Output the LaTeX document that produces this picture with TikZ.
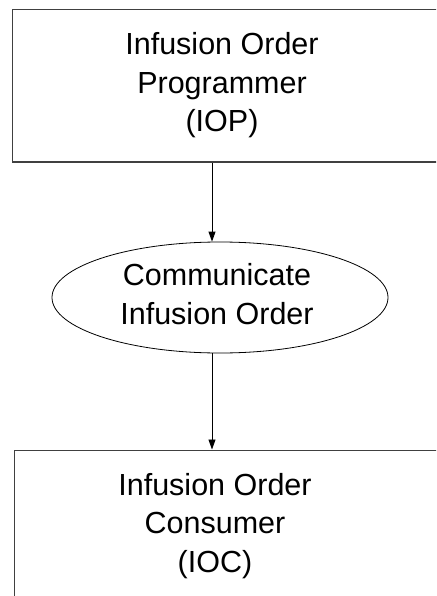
\documentclass[tikz,border=0pt]{standalone}
\usepackage{fontspec}
\setmainfont{Liberation Sans}
\usetikzlibrary{shapes.geometric,arrows.meta}
\begin{document}
\begin{tikzpicture}[x=1pt,y=-1pt,
  lbl/.style={font=\fontsize{30.5}{38.5}\selectfont, align=center},
  actor/.style={draw=black!75, line width=1pt, rectangle, inner sep=0pt, lbl},
  proc/.style={draw, line width=0.8pt, ellipse, inner sep=0pt, lbl},
  flow/.style={line width=0.9pt, -{Triangle[length=10pt,width=7pt]}}]
\useasboundingbox (0,0) rectangle (436,596);
\begin{scope}
\clip (0,0) rectangle (436,596);
\node[actor, minimum width=428pt, minimum height=152pt] (iop) at (226,86) {};
\node[lbl, anchor=base] (ioptext) at (222,132) {Infusion Order\\Programmer\\(IOP)};
\node[proc, minimum width=336pt, minimum height=111pt] (comm) at (220,297.5) {};
\node[lbl, anchor=base] (commtext) at (217,324) {Communicate\\Infusion Order};
\node[actor, minimum width=428pt, minimum height=200pt] (ioc) at (228,550) {};
\node[lbl, anchor=base] (ioctext) at (215,572) {Infusion Order\\Consumer\\(IOC)};
\end{scope}
\draw[flow] (iop.south -| 212,0) -- (comm.north -| 212,0);
\draw[flow] (comm.south -| 212,0) -- (ioc.north -| 212,0);
\end{tikzpicture}
\end{document}
